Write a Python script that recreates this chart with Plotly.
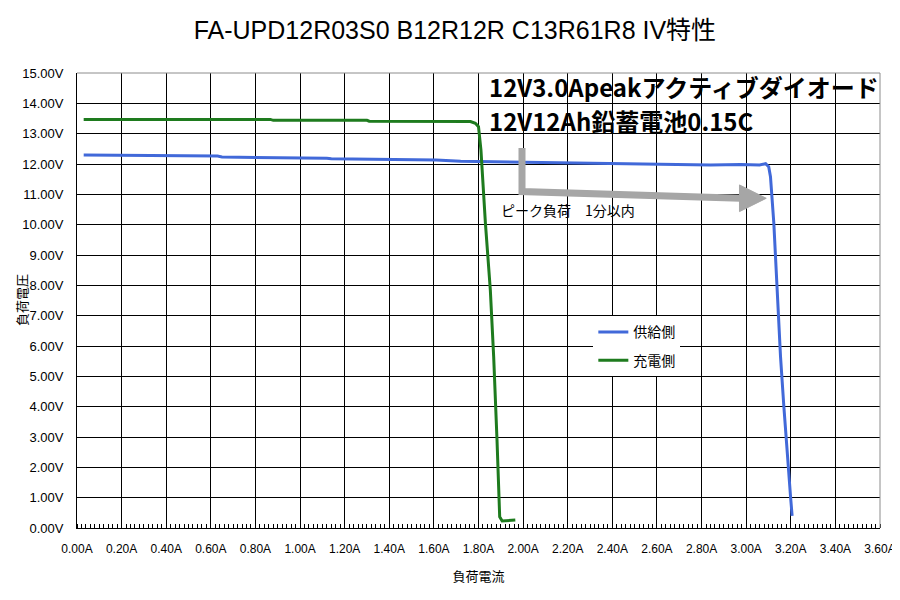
import plotly.graph_objects as go

# ---- data ----
supply_name = "供給側"
supply_current = [0.03, 0.27, 0.29, 0.63, 0.65, 0.88, 0.90, 1.12, 1.14, 1.37, 1.39, 1.61,
                  1.72, 2.09, 2.62, 2.84, 2.975, 3.06, 3.087, 3.101, 3.109, 3.124, 3.139,
                  3.154, 3.169, 3.184, 3.199, 3.206]
supply_voltage = [12.30, 12.29, 12.27, 12.26, 12.23, 12.22, 12.20, 12.19, 12.17, 12.16, 12.14, 12.13,
                  12.09, 12.05, 12.00, 11.97, 11.98, 11.97, 12.01, 11.91, 11.58, 10.05, 7.85,
                  5.65, 4.00, 2.35, 1.03, 0.40]

charge_name = "充電側"
charge_current = [0.03, 0.867, 0.88, 1.30, 1.31, 1.60, 1.62, 1.764, 1.786, 1.80, 1.811, 1.831,
                  1.853, 1.868, 1.883, 1.895, 1.906, 1.965]
charge_voltage = [13.47, 13.47, 13.44, 13.44, 13.41, 13.41, 13.39, 13.40, 13.34, 13.23, 12.46, 10.05,
                  7.85, 5.65, 2.90, 0.37, 0.23, 0.26]

x_ticks = [round(0.2 * i, 2) for i in range(19)]
x_labels = [f"{v:.2f}A" for v in x_ticks]
y_ticks = list(range(16))
y_labels = [f"{v:.2f}V" for v in y_ticks]

title_text = "FA-UPD12R03S0 B12R12R C13R61R8 IV特性"
x_title = "負荷電流"
y_title = "負荷電圧"
note_line1 = "12V3.0Apeakアクティブダイオード"
note_line2 = "12V12Ah鉛蓄電池0.15C"
arrow_label = "ピーク負荷　1分以内"

FONT = "Liberation Sans, Noto Sans CJK JP, sans-serif"
CJK = "Noto Sans CJK JP, sans-serif"

fig = go.Figure()
fig.add_trace(go.Scatter(x=supply_current, y=supply_voltage, mode="lines", name=supply_name,
                         legendgroup="a", line=dict(color="#4169d9", width=3)))
fig.add_trace(go.Scatter(x=charge_current, y=charge_voltage, mode="lines", name=charge_name,
                         legendgroup="b", line=dict(color="#1e7b1e", width=3)))

fig.update_layout(
    width=892, height=592,
    margin=dict(l=69, r=20, t=65, b=72, autoexpand=False),
    paper_bgcolor="white", plot_bgcolor="white",
    font=dict(family=FONT, color="black"),
    title=dict(text=title_text, x=0.501, xanchor="center", y=0.962, yanchor="middle",
               font=dict(size=25, family=FONT, color="black")),
    legend=dict(x=0.643, y=0.465, xanchor="left", yanchor="top", bgcolor="white",
                font=dict(size=14, family=CJK, color="black"), tracegroupgap=7, itemwidth=30),
    showlegend=True,
)

fig.update_xaxes(
    range=[0, 3.6], tickmode="array", tickvals=x_ticks, ticktext=x_labels, automargin=False,
    showgrid=True, gridcolor="black", gridwidth=1,
    showline=True, linecolor="black", linewidth=1, zeroline=False,
    ticks="", ticklabelstandoff=10, tickfont=dict(size=12, family=FONT, color="black"),
    minor=dict(dtick=0.02, tick0=0, ticks="inside", ticklen=4, tickcolor="black", showgrid=False),
    title=dict(text=x_title, font=dict(size=13, family=CJK, color="black"), standoff=16),
)
fig.update_yaxes(
    range=[0, 15], tickmode="array", tickvals=y_ticks, ticktext=y_labels, automargin=False,
    showgrid=True, gridcolor="black", gridwidth=1,
    showline=True, linecolor="black", linewidth=1, zeroline=False,
    ticks="", ticklabelstandoff=10, tickfont=dict(size=13, family=FONT, color="black"),
)

fig.add_annotation(x=-0.069, y=0.5, xref="paper", yref="paper", text=y_title, showarrow=False,
                   textangle=-90, xanchor="center", yanchor="middle", borderpad=0,
                   font=dict(size=13, family=CJK, color="black"))

# grey top / right border of plot area
fig.add_shape(type="line", xref="paper", yref="paper", x0=0, x1=1, y0=1, y1=1,
              line=dict(color="#8c8c8c", width=1), layer="above")
fig.add_shape(type="line", xref="paper", yref="paper", x0=1, x1=1, y0=0, y1=1,
              line=dict(color="#8c8c8c", width=1), layer="above")

# grey L-shaped arrow
fig.add_shape(type="path", xref="x", yref="y",
              path="M 1.995 12.53 L 1.995 11.09 L 2.975 10.87",
              line=dict(color="#a6a6a6", width=7), layer="above")
fig.add_shape(type="path", xref="x", yref="y",
              path="M 2.97 11.31 L 3.09 10.87 L 2.97 10.43 Z",
              line=dict(color="#a6a6a6", width=1), fillcolor="#a6a6a6", layer="above")

fig.add_annotation(x=1.89, y=10.48, xref="x", yref="y", text=arrow_label, showarrow=False,
                   xanchor="left", yanchor="middle", font=dict(size=14, family=CJK, color="black"))

fig.add_annotation(x=0.5106, y=0.971, xref="paper", yref="paper", text="<b>" + note_line1 + "</b>",
                   showarrow=False, xanchor="left", yanchor="middle",
                   font=dict(size=24, family=CJK, color="black"))
fig.add_annotation(x=0.5106, y=0.896, xref="paper", yref="paper", text="<b>" + note_line2 + "</b>",
                   showarrow=False, xanchor="left", yanchor="middle",
                   font=dict(size=24, family=CJK, color="black"))

fig.write_html("out.html")
